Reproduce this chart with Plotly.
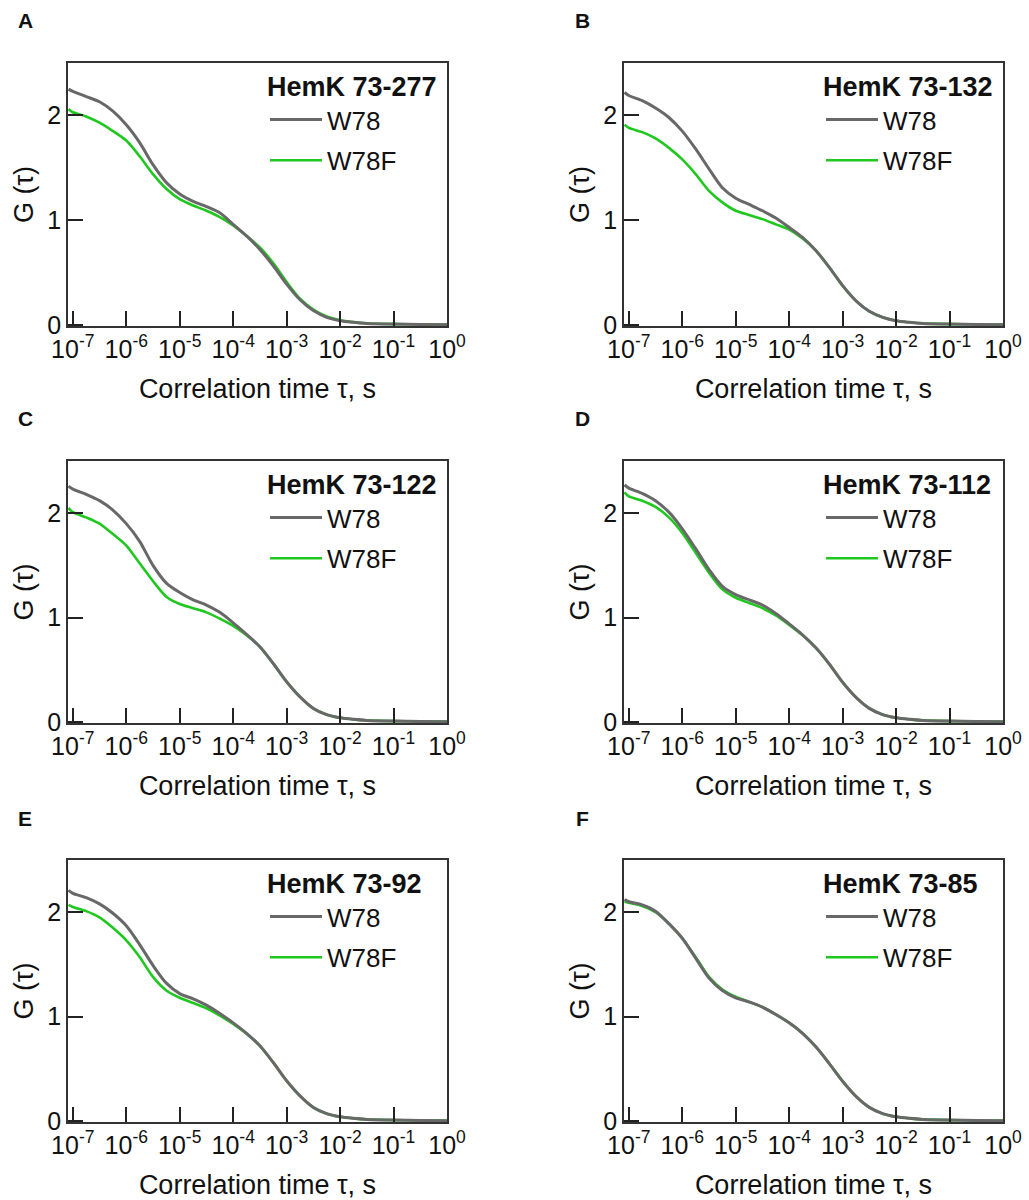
import plotly.graph_objects as go

# ---------------- data ----------------
tau = [8.3e-8, 1e-7, 1.78e-7, 3.16e-7, 5.62e-7, 1e-6, 1.78e-6, 3.16e-6, 5.62e-6,
       1e-5, 1.78e-5, 3.16e-5, 5.62e-5, 1e-4, 1.78e-4, 3.16e-4, 5.62e-4,
       1e-3, 1.78e-3, 3.16e-3, 5.62e-3, 1e-2, 1.78e-2, 3.16e-2, 0.1, 0.316, 1.0]

panel_letters = ["A", "B", "C", "D", "E", "F"]
constructs = ["HemK 73-277", "HemK 73-132", "HemK 73-122", "HemK 73-112", "HemK 73-92", "HemK 73-85"]
series_names = ["W78", "W78F"]

tail = [0.025, 0.015, 0.008, 0.005, 0.003]

A_W78 = [2.25, 2.23, 2.18, 2.13, 2.04, 1.91, 1.74, 1.53, 1.36, 1.25, 1.18, 1.13, 1.07, 0.96, 0.85, 0.72, 0.565, 0.39, 0.24, 0.137, 0.073, 0.04] + tail
A_W78F = [2.06, 2.03, 1.99, 1.93, 1.85, 1.76, 1.61, 1.44, 1.30, 1.20, 1.14, 1.09, 1.03, 0.95, 0.85, 0.74, 0.59, 0.41, 0.25, 0.146, 0.08, 0.045, 0.027, 0.016, 0.008, 0.005, 0.003]

B_W78 = [2.22, 2.19, 2.14, 2.07, 1.98, 1.85, 1.68, 1.49, 1.31, 1.21, 1.15, 1.09, 1.02, 0.93, 0.835, 0.71, 0.55, 0.375, 0.23, 0.13, 0.073, 0.04] + tail
B_W78F = [1.91, 1.88, 1.84, 1.78, 1.69, 1.58, 1.44, 1.28, 1.17, 1.09, 1.05, 1.01, 0.96, 0.91, 0.825, 0.71, 0.55, 0.375, 0.23, 0.13, 0.073, 0.04] + tail

C_W78 = [2.26, 2.23, 2.18, 2.12, 2.03, 1.90, 1.73, 1.50, 1.33, 1.24, 1.17, 1.12, 1.05, 0.95, 0.84, 0.72, 0.56, 0.385, 0.24, 0.13, 0.07, 0.04] + tail
C_W78F = [2.05, 2.01, 1.96, 1.90, 1.80, 1.69, 1.52, 1.35, 1.20, 1.13, 1.09, 1.05, 0.99, 0.92, 0.83, 0.72, 0.56, 0.385, 0.24, 0.13, 0.07, 0.04] + tail

D_W78 = [2.27, 2.24, 2.19, 2.12, 2.01, 1.85, 1.66, 1.46, 1.30, 1.22, 1.17, 1.12, 1.04, 0.94, 0.835, 0.71, 0.555, 0.38, 0.235, 0.13, 0.07, 0.04] + tail
D_W78F = [2.20, 2.16, 2.12, 2.06, 1.96, 1.81, 1.62, 1.43, 1.27, 1.19, 1.14, 1.09, 1.02, 0.93, 0.83, 0.71, 0.555, 0.38, 0.235, 0.13, 0.07, 0.04] + tail

E_W78 = [2.21, 2.18, 2.14, 2.08, 1.99, 1.87, 1.69, 1.49, 1.32, 1.22, 1.17, 1.11, 1.03, 0.94, 0.84, 0.72, 0.56, 0.385, 0.24, 0.13, 0.07, 0.04] + tail
E_W78F = [2.07, 2.05, 2.01, 1.95, 1.85, 1.73, 1.57, 1.38, 1.25, 1.18, 1.13, 1.08, 1.01, 0.93, 0.835, 0.72, 0.56, 0.385, 0.24, 0.13, 0.07, 0.04] + tail

F_W78 = [2.12, 2.10, 2.07, 2.01, 1.89, 1.75, 1.56, 1.37, 1.25, 1.18, 1.14, 1.09, 1.02, 0.94, 0.84, 0.71, 0.55, 0.38, 0.235, 0.13, 0.07, 0.04] + tail
F_W78F = [2.10, 2.09, 2.06, 2.00, 1.89, 1.75, 1.57, 1.38, 1.26, 1.19, 1.14, 1.09, 1.02, 0.94, 0.84, 0.71, 0.55, 0.38, 0.235, 0.13, 0.07, 0.04] + tail

W78_data = [A_W78, B_W78, C_W78, D_W78, E_W78, F_W78]
W78F_data = [A_W78F, B_W78F, C_W78F, D_W78F, E_W78F, F_W78F]

x_tickvals = [1e-7, 1e-6, 1e-5, 1e-4, 1e-3, 1e-2, 1e-1, 1e0]
x_ticktext = ["10<sup>-7</sup>", "10<sup>-6</sup>", "10<sup>-5</sup>", "10<sup>-4</sup>",
              "10<sup>-3</sup>", "10<sup>-2</sup>", "10<sup>-1</sup>", "10<sup>0</sup>"]
y_tickvals = [0, 1, 2]

# ---------------- style ----------------
W, H = 1029, 1200
FONT = "Liberation Sans, Arial, sans-serif"
GRAY = "#686868"
GREEN = "#1ec81e"
TXT = "#111111"

col_px = [(68, 447), (624, 1003)]
row_px = [(63, 326), (461, 723), (860, 1122)]

fig = go.Figure()
layout = dict(template="simple_white", width=W, height=H, margin=dict(l=0, r=0, t=0, b=0),
              paper_bgcolor="white", plot_bgcolor="white",
              font=dict(family=FONT, color=TXT), annotations=[])

for i in range(6):
    r, c = divmod(i, 2)
    n = i + 1
    xa = "xaxis" if n == 1 else f"xaxis{n}"
    ya = "yaxis" if n == 1 else f"yaxis{n}"
    xref = "x" if n == 1 else f"x{n}"
    yref = "y" if n == 1 else f"y{n}"
    lg = "legend" if n == 1 else f"legend{n}"
    x0, x1 = col_px[c]
    yt, yb = row_px[r]
    dx = [x0 / W, x1 / W]
    dy = [1 - yb / H, 1 - yt / H]

    fig.add_trace(go.Scatter(x=tau, y=W78F_data[i], mode="lines", name=series_names[1],
                             line=dict(color=GREEN, width=2.6, shape="spline", smoothing=0.8),
                             xaxis=xref, yaxis=yref, legend=lg, legendrank=2,
                             legendgroup=f"g{n}b"))
    fig.add_trace(go.Scatter(x=tau, y=W78_data[i], mode="lines", name=series_names[0],
                             line=dict(color=GRAY, width=3, shape="spline", smoothing=0.8),
                             xaxis=xref, yaxis=yref, legend=lg, legendrank=1,
                             legendgroup=f"g{n}a"))

    layout[xa] = dict(domain=dx, anchor=yref, type="log", range=[-7.09, 0],
                      tickmode="array", tickvals=x_tickvals, ticktext=x_ticktext,
                      ticks="inside", ticklen=15, tickwidth=2, tickcolor="#222222",
                      showline=True, linecolor="#333333", linewidth=1.5, mirror=True,
                      showgrid=False, zeroline=False,
                      tickfont=dict(size=25, family=FONT, color=TXT),
                      title=dict(text="Correlation time τ, s", font=dict(size=27, family=FONT, color=TXT),
                                 standoff=17),
                      automargin=False)
    layout[ya] = dict(domain=dy, anchor=xref, range=[-0.01, 2.5],
                      tickmode="array", tickvals=y_tickvals,
                      ticks="inside", ticklen=15, tickwidth=2, tickcolor="#222222",
                      showline=True, linecolor="#333333", linewidth=1.5, mirror=True,
                      showgrid=False, zeroline=False,
                      tickfont=dict(size=25, family=FONT, color=TXT),
                      title=dict(text="G (τ)", font=dict(size=27, family=FONT, color=TXT),
                                 standoff=6),
                      automargin=False)
    layout[lg] = dict(x=(x0 + 197) / W, y=1 - (yt - 2) / H, xanchor="left", yanchor="top",
                      bgcolor="rgba(0,0,0,0)", borderwidth=0,
                      font=dict(size=26, family=FONT, color=TXT),
                      title=dict(text=f"<b>{constructs[i]}</b>", font=dict(size=27, family=FONT, color=TXT)),
                      tracegroupgap=4, itemwidth=52)
    layout["annotations"].append(dict(text=f"<b>{panel_letters[i]}</b>", xref="paper", yref="paper",
                                      x=(25 if c == 0 else 582) / W,
                                      y=1 - (yt - 42) / H, xanchor="center", yanchor="middle",
                                      showarrow=False, font=dict(size=21, family=FONT, color=TXT)))

fig.update_layout(**layout)
fig.write_html("out.html")
